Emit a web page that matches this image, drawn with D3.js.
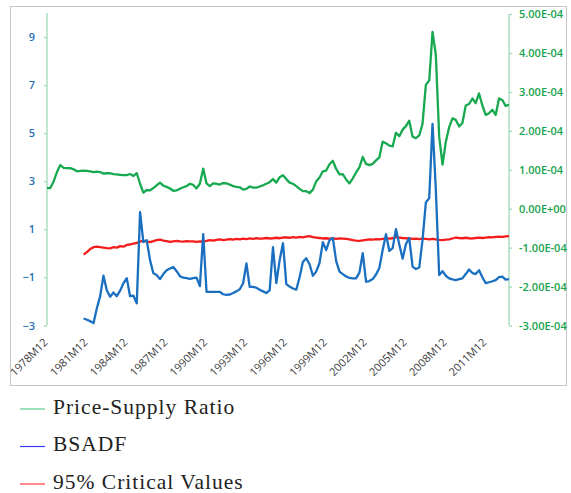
<!DOCTYPE html>
<html>
<head>
<meta charset="utf-8">
<script src="https://cdn.jsdelivr.net/npm/d3@7"></script>
<style>
  html, body { margin: 0; padding: 0; background: #fff; }
</style>
</head>
<body>
<div id="chart"></div>
<script>
// Quarterly readings, first point of each series and step in months
const ratioStart = "1978M12"
const bsadfStart = "1981M09"
const stepMonths = 3

// Price-Supply Ratio, right axis, in units of 1E-04
const priceSupplyRatio = [
  0.53,0.53,0.70,0.94,1.12,1.05,1.04,1.04,1.01,0.96,
  0.97,0.98,0.97,0.96,0.94,0.95,0.94,0.90,0.91,0.91,
  0.89,0.88,0.87,0.86,0.86,0.89,0.84,0.91,0.64,0.41,
  0.48,0.47,0.53,0.60,0.67,0.59,0.56,0.52,0.46,0.47,
  0.51,0.55,0.58,0.64,0.61,0.52,0.64,1.03,0.65,0.58,
  0.65,0.64,0.62,0.66,0.65,0.62,0.58,0.56,0.55,0.49,
  0.51,0.57,0.54,0.54,0.57,0.60,0.64,0.68,0.76,0.67,
  0.81,0.86,0.76,0.67,0.64,0.58,0.51,0.45,0.45,0.40,
  0.49,0.70,0.80,0.96,0.98,1.14,1.23,1.02,0.88,0.89,
  0.75,0.65,0.78,0.93,1.06,1.33,1.15,1.12,1.15,1.24,
  1.32,1.72,1.68,1.62,1.60,1.95,1.86,2.03,2.12,2.26,
  1.85,1.81,1.88,2.18,3.18,3.29,4.54,3.95,1.85,1.13,
  1.72,2.09,2.32,2.28,2.11,2.20,2.65,2.69,2.83,2.71,
  2.96,2.65,2.41,2.45,2.54,2.41,2.83,2.79,2.64,2.67
]

// BSADF statistic, left axis
const bsadf = [
  -2.71,-2.76,-2.82,-2.90,-2.28,-1.78,-0.93,-1.53,-1.80,-1.63,
  -1.78,-1.55,-1.24,-1.03,-1.78,-1.76,-2.08,1.72,0.47,0.55,
  -0.28,-0.83,-0.90,-1.07,-0.86,-0.70,-0.63,-0.57,-0.74,-0.95,
  -1.01,-1.03,-1.06,-1.03,-1.01,-1.36,0.80,-1.60,-1.60,-1.60,
  -1.60,-1.60,-1.70,-1.73,-1.71,-1.65,-1.58,-1.49,-1.24,-0.42,
  -1.39,-1.39,-1.43,-1.51,-1.58,-1.65,-1.53,0.26,-1.24,-0.28,
  0.42,-1.28,-1.38,-1.46,-1.51,-0.99,-0.36,-0.20,-0.45,-0.93,
  -0.76,-0.40,0.47,0.14,0.55,0.64,-0.32,-0.76,-0.86,-0.96,
  -1.02,-1.04,-1.04,-0.80,0.01,-1.18,-1.15,-1.07,-0.88,-0.61,
  0.14,0.80,0.10,0.22,1.01,0.37,-0.22,0.39,0.64,-0.55,
  -0.65,-0.59,0.55,2.12,2.30,5.39,2.64,-0.90,-0.74,-0.93,
  -1.04,-1.08,-1.11,-1.07,-1.04,-0.86,-0.67,-0.82,-0.86,-0.70,
  -0.99,-1.24,-1.20,-1.16,-1.11,-0.99,-0.97,-1.09,-1.07
]

// 95% critical values, left axis
const criticalValues = [
  -0.05,0.05,0.18,0.26,0.28,0.26,0.24,0.22,0.21,0.26,
  0.24,0.30,0.28,0.35,0.37,0.41,0.44,0.49,0.53,0.49,
  0.47,0.51,0.55,0.57,0.53,0.51,0.48,0.50,0.52,0.50,
  0.49,0.51,0.50,0.50,0.48,0.50,0.49,0.52,0.55,0.53,
  0.56,0.58,0.55,0.57,0.59,0.57,0.60,0.58,0.61,0.59,
  0.62,0.60,0.63,0.61,0.62,0.64,0.62,0.63,0.65,0.63,
  0.66,0.67,0.65,0.68,0.66,0.69,0.67,0.70,0.72,0.68,
  0.66,0.64,0.62,0.63,0.61,0.62,0.60,0.62,0.61,0.60,
  0.58,0.55,0.53,0.52,0.54,0.56,0.58,0.57,0.59,0.58,
  0.60,0.62,0.61,0.63,0.68,0.66,0.64,0.63,0.62,0.60,
  0.61,0.59,0.61,0.60,0.58,0.60,0.58,0.56,0.55,0.57,
  0.58,0.62,0.66,0.64,0.63,0.65,0.63,0.62,0.64,0.66,
  0.64,0.66,0.68,0.67,0.69,0.70,0.69,0.71,0.72
]

// tick labels
const xTickLabels = ["1978M12","1981M12","1984M12","1987M12","1990M12","1993M12",
  "1996M12","1999M12","2002M12","2005M12","2008M12","2011M12"]
const leftTicks = [-3, -1, 1, 3, 5, 7, 9]
const rightTicks = [-3, -2, -1, 0, 1, 2, 3, 4, 5]

const legendItems = [
  { name: "Price-Supply Ratio", color: "#5fc98d" },
  { name: "BSADF", color: "#3b3bff" },
  { name: "95% Critical Values", color: "#ff3b3b" }
]

const parseMonth = d3.timeParse("%YM%m")
const toSeries = (start, values) => values.map((v, i) => ({
  date: d3.timeMonth.offset(parseMonth(start), i * stepMonths),
  value: v
}))
const ratioData = toSeries(ratioStart, priceSupplyRatio)
const bsadfData = toSeries(bsadfStart, bsadf)
const cvData = toSeries(bsadfStart, criticalValues)

const W = 571, H = 493
const plot = { left: 47, right: 509, top: 13, bottom: 325.5 }

const svg = d3.select("#chart").append("svg")
  .attr("width", W)
  .attr("height", H)
  .style("display", "block")

// chart frame
svg.append("rect")
  .attr("x", 10.5).attr("y", 6.5)
  .attr("width", 556).attr("height", 379)
  .attr("fill", "#fff")
  .attr("stroke", "#c6c6c6")

// scales
const x = d3.scaleTime()
  .domain([parseMonth("1978M12"), parseMonth("2013M09")])
  .range([plot.left, plot.right])
const yLeft = d3.scaleLinear().domain([-3, 10]).range([plot.bottom, plot.top])
const yRight = d3.scaleLinear().domain([-3, 5]).range([plot.bottom, plot.top + 1])

const fmtRight = d => d === 0 ? "0.00E+00" : d.toFixed(2) + "E-04"

// left axis
const leftAxis = svg.append("g")
  .attr("transform", `translate(${plot.left},0)`)
  .call(d3.axisLeft(yLeft).tickValues(leftTicks).tickSize(3).tickPadding(9).tickFormat(d3.format("d")))
leftAxis.select(".domain").attr("stroke", "#9fd8b8").attr("stroke-width", 1.3)
  .attr("d", `M0,${plot.top}V${plot.bottom}`)
leftAxis.selectAll(".tick line").attr("stroke", "#9fd8b8").attr("stroke-width", 1.3)
leftAxis.selectAll(".tick text")
  .attr("fill", "#2a6fb3")
  .style("font-family", "'Open Sans', sans-serif")
  .style("font-size", "11px")
  .style("font-weight", "600")

// right axis
const rightAxis = svg.append("g")
  .attr("transform", `translate(${plot.right},0)`)
  .call(d3.axisRight(yRight).tickValues(rightTicks).tickSize(3).tickPadding(7).tickFormat(fmtRight))
rightAxis.select(".domain").attr("stroke", "#9fd8b8").attr("stroke-width", 1.3)
  .attr("d", `M0,${plot.top + 1}V${plot.bottom}`)
rightAxis.selectAll(".tick line").attr("stroke", "#9fd8b8").attr("stroke-width", 1.3)
rightAxis.selectAll(".tick text")
  .attr("fill", "#16a34c")
  .style("font-family", "'Open Sans', sans-serif")
  .style("font-size", "11px")
  .style("font-weight", "600")

// x labels, rotated
svg.append("g").selectAll("text")
  .data(xTickLabels)
  .enter().append("text")
  .attr("transform", d => `translate(${x(parseMonth(d)) + 1.5},343) rotate(-45)`)
  .attr("text-anchor", "end")
  .attr("fill", "#404040")
  .style("font-family", "'Open Sans', sans-serif")
  .style("font-size", "11px")
  .text(d => d)

// lines
const lineLeft = d3.line().x(d => x(d.date)).y(d => yLeft(d.value))
const lineRight = d3.line().x(d => x(d.date)).y(d => yRight(d.value))

svg.append("path")
  .attr("d", lineLeft(cvData))
  .attr("fill", "none").attr("stroke", "#f41c1c")
  .attr("stroke-width", 2.3).attr("stroke-linejoin", "round")
svg.append("path")
  .attr("d", lineRight(ratioData))
  .attr("fill", "none").attr("stroke", "#17a94f")
  .attr("stroke-width", 2.3).attr("stroke-linejoin", "round")
svg.append("path")
  .attr("d", lineLeft(bsadfData))
  .attr("fill", "none").attr("stroke", "#1a6fc0")
  .attr("stroke-width", 2.3).attr("stroke-linejoin", "round")

// legend below the chart
const legend = svg.append("g").selectAll("g")
  .data(legendItems)
  .enter().append("g")
  .attr("transform", (d, i) => `translate(0,${409 + i * 37.5})`)
legend.append("line")
  .attr("x1", 20).attr("x2", 45)
  .attr("stroke", d => d.color).attr("stroke-width", 1.2)
legend.append("text")
  .attr("x", 53).attr("y", 4.5)
  .attr("fill", "#222")
  .style("font-family", "'Liberation Serif', serif")
  .style("font-size", "21.5px")
  .style("letter-spacing", "1px")
  .text(d => d.name)
</script>
</body>
</html>
